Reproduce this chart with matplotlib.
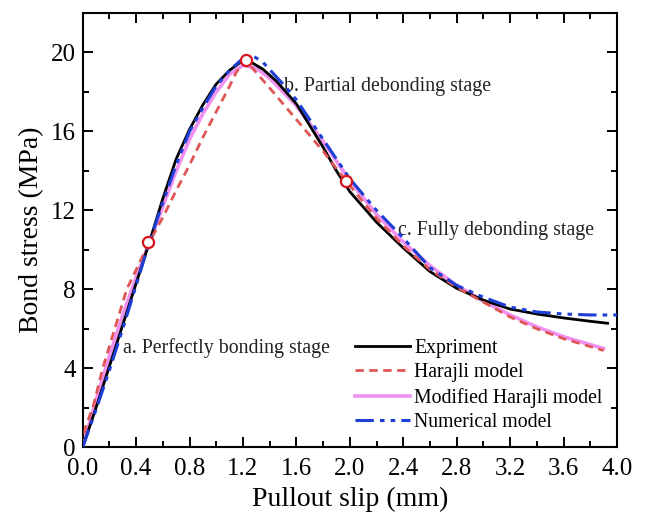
import numpy as np
import matplotlib
matplotlib.use("Agg")
import matplotlib.pyplot as plt
from matplotlib.ticker import MultipleLocator

plt.rcParams["font.family"] = ["Liberation Serif", "DejaVu Serif"]

# Experiment
exp_x = [0, 0.1, 0.2, 0.3, 0.4, 0.5, 0.6, 0.7, 0.8, 0.9, 1.0, 1.1, 1.18, 1.25,
         1.35, 1.45, 1.6, 1.7, 1.8, 1.9, 2.0, 2.2, 2.4, 2.6, 2.8, 3.0, 3.2,
         3.4, 3.6, 3.8, 3.93]
exp_y = [0, 2.0, 4.1, 6.2, 8.3, 10.4, 12.6, 14.6, 16.1, 17.35, 18.4, 19.1,
         19.5, 19.55, 19.15, 18.55, 17.4, 16.3, 15.2, 14.0, 12.95, 11.4, 10.1,
         8.9, 8.05, 7.45, 7.0, 6.75, 6.55, 6.38, 6.28]

# Harajli model
har_x = [0, 0.02, 0.08, 0.15, 0.24, 0.33, 0.5, 0.6, 0.7, 0.8, 0.9, 1.0, 1.1,
         1.15, 1.22, 1.4, 1.6, 1.8, 1.97, 2.2, 2.4, 2.6, 2.8, 3.0, 3.2, 3.4,
         3.6, 3.8, 3.9]
har_y = [0, 1.0, 2.1, 4.0, 6.0, 8.0, 10.4, 11.65, 13.0, 14.3, 15.7, 17.0,
         18.3, 19.0, 19.6, 18.2, 16.6, 15.0, 13.5, 11.6, 10.2, 9.0, 8.1, 7.35,
         6.6, 6.0, 5.5, 5.1, 4.9]

# Modified Harajli model
mod_x = [0, 0.1, 0.2, 0.3, 0.4, 0.5, 0.6, 0.7, 0.8, 0.9, 1.0, 1.1, 1.2, 1.3,
         1.4, 1.6, 1.8, 2.0, 2.2, 2.4, 2.6, 2.8, 3.0, 3.2, 3.4, 3.6, 3.8, 3.9]
mod_y = [0, 2.4, 4.6, 6.7, 8.6, 10.4, 12.2, 14.0, 15.6, 16.9, 18.0, 18.9,
         19.35, 19.2, 18.7, 17.3, 15.5, 13.5, 11.8, 10.4, 9.2, 8.2, 7.4, 6.7,
         6.1, 5.6, 5.2, 5.0]

# Numerical model
num_x = [0, 0.1, 0.2, 0.3, 0.4, 0.5, 0.6, 0.7, 0.8, 0.9, 1.0, 1.1, 1.2, 1.27,
         1.35, 1.5, 1.6, 1.8, 2.0, 2.2, 2.4, 2.6, 2.8, 3.0, 3.2, 3.4, 3.6,
         3.8, 4.0]
num_y = [0, 1.9, 3.9, 6.0, 8.2, 10.4, 12.4, 14.3, 16.0, 17.2, 18.3, 19.1,
         19.7, 19.85, 19.5, 18.4, 17.6, 15.6, 13.6, 12.0, 10.6, 9.1, 8.2, 7.6,
         7.1, 6.85, 6.75, 6.7, 6.7]

# stage points
pt_x = [0.49, 1.22, 1.97]
pt_y = [10.4, 19.6, 13.5]

fig = plt.figure(figsize=(6.46, 5.2), dpi=100)
ax = fig.add_axes([0.128, 0.140, 0.827, 0.835])

ax.plot(mod_x, mod_y, color="#f090f0", lw=2.6, label="Modified Harajli model", zorder=2)
ax.plot(exp_x, exp_y, color="black", lw=2.0, label="Expriment", zorder=3)
ax.plot(har_x, har_y, color="#e05555", lw=2.0, ls=(0, (3, 2)), label="Harajli model", zorder=4)
ax.plot(num_x, num_y, color="#1d3fd6", lw=2.2, ls=(0, (6, 2, 1.5, 2, 1.5, 2)),
        label="Numerical model", zorder=5)
ax.plot(pt_x, pt_y, "o", ms=8, mfc="white", mec="#d8141c", mew=1.6, ls="none", zorder=6)

ax.set_xlim(0, 4.0)
ax.set_ylim(0, 22)
ax.xaxis.set_major_locator(MultipleLocator(0.4))
ax.xaxis.set_minor_locator(MultipleLocator(0.2))
ax.yaxis.set_major_locator(MultipleLocator(4))
ax.yaxis.set_minor_locator(MultipleLocator(2))
ax.set_xticklabels([f"{v:.1f}" for v in ax.get_xticks()])
ax.tick_params(which="both", direction="in", top=True, right=True, width=1.4, labelsize=18)
ax.tick_params(axis="x", pad=8)
ax.tick_params(axis="y", pad=5)
ax.tick_params(which="major", length=7)
ax.tick_params(which="minor", length=4)
for s in ax.spines.values():
    s.set_linewidth(1.5)

ax.set_xlabel("Pullout slip (mm)", fontsize=20, labelpad=5)
ax.set_ylabel("Bond stress (MPa)", fontsize=20, labelpad=5)

ax.text(0.30, 5.0, "a. Perfectly bonding stage", fontsize=14.3, va="center", color="#222222")
ax.text(1.51, 18.3, "b. Partial debonding stage", fontsize=14.3, va="center", color="#222222")
ax.text(2.36, 11.0, "c. Fully debonding stage", fontsize=14.3, va="center", color="#222222")

handles, labels = ax.get_legend_handles_labels()
order = [1, 2, 0, 3]
ax.legend([handles[i] for i in order], [labels[i] for i in order],
          loc="upper left", bbox_to_anchor=(0.51, 0.25), frameon=False,
          fontsize=14.2, handlelength=2.8, handletextpad=0.2,
          labelspacing=0.28, borderpad=0, borderaxespad=0)

fig.savefig("out.png", dpi=100)
